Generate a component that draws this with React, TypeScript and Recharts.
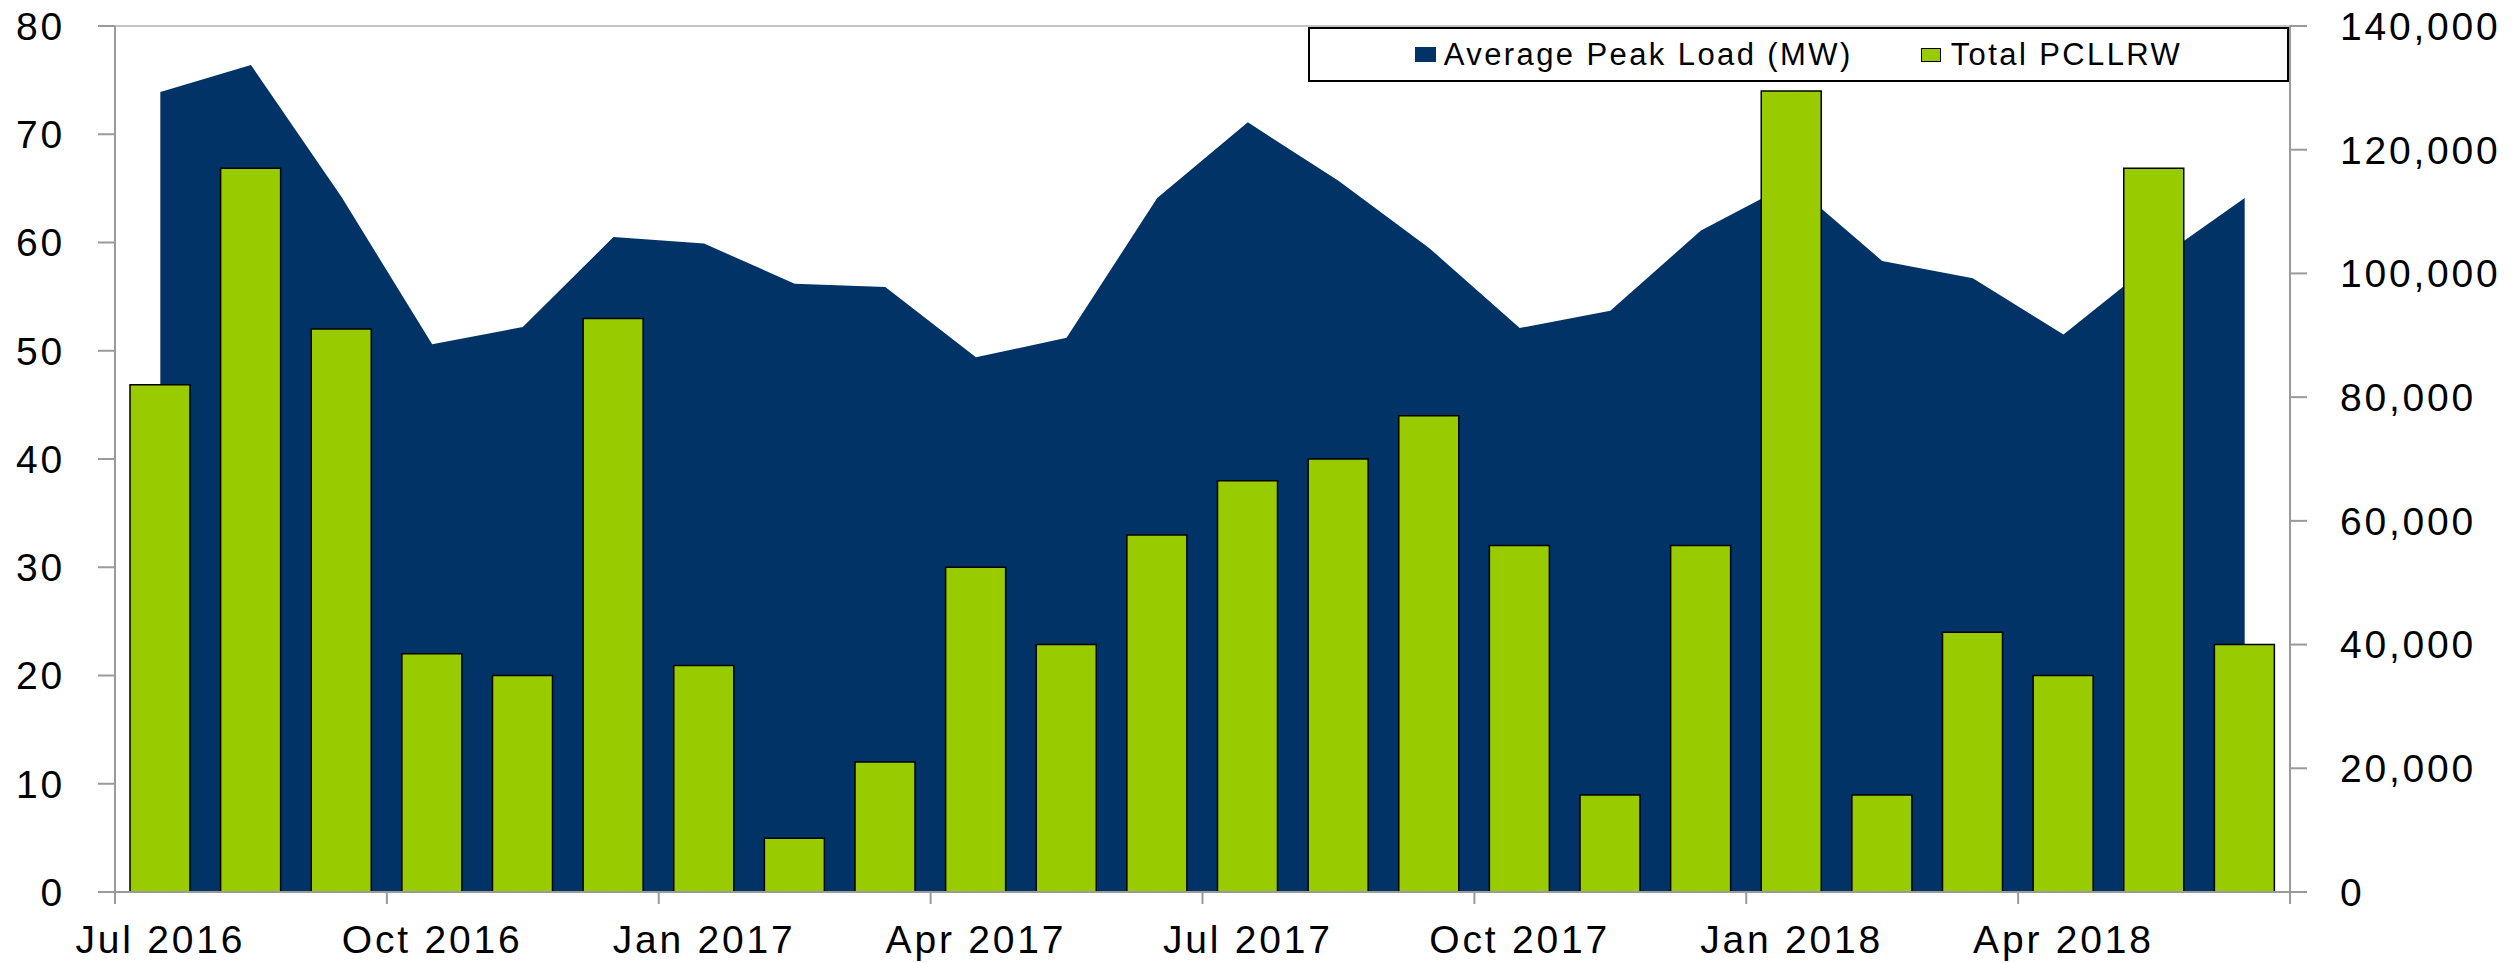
import {
  ComposedChart,
  Area,
  Bar,
  XAxis,
  YAxis,
  ReferenceLine,
} from 'recharts';

const months = [
  'Jul 2016', 'Aug 2016', 'Sep 2016', 'Oct 2016', 'Nov 2016', 'Dec 2016',
  'Jan 2017', 'Feb 2017', 'Mar 2017', 'Apr 2017', 'May 2017', 'Jun 2017',
  'Jul 2017', 'Aug 2017', 'Sep 2017', 'Oct 2017', 'Nov 2017', 'Dec 2017',
  'Jan 2018', 'Feb 2018', 'Mar 2018', 'Apr 2018', 'May 2018', 'Jun 2018',
];

// left axis (MW)
const peakLoad = [
  73.9, 76.4, 64.2, 50.6, 52.2, 60.5, 59.9, 56.2, 55.9, 49.4, 51.2, 64.1,
  71.1, 65.7, 59.5, 52.1, 53.7, 61.1, 65.5, 58.3, 56.7, 51.5, 58.2, 64.1,
];

// right axis
const pcllrw = [
  82000, 117000, 91000, 38500, 35000, 92700, 36600, 8700, 21000, 52500, 40000, 57700,
  66500, 70000, 77000, 56000, 15700, 56000, 129500, 15700, 42000, 35000, 117000, 40000,
];

const leftTicks = [0, 10, 20, 30, 40, 50, 60, 70, 80];
const rightTicks = [0, 20000, 40000, 60000, 80000, 100000, 120000, 140000];
const labelEvery = 3;

const data = months.map((m, i) => ({
  month: m,
  load: peakLoad[i],
  total: pcllrw[i],
}));

const W = 2519;
const H = 963;
const LEFT_W = 115;
const RIGHT_W = 229;
const PLOT_W = W - LEFT_W - RIGHT_W;
const AXIS = '#9a9a9a';
const NAVY = '#023366';
const GREEN = '#99CC00';

const MonthTick = (props: any) => {
  const { x, y, payload, index } = props;
  const band = PLOT_W / months.length;
  const show = index % labelEvery === 0;
  const last = index === months.length - 1;
  return (
    <g>
      {show && (
        <line x1={x - band / 2} x2={x - band / 2} y1={y} y2={y + 12} stroke={AXIS} strokeWidth={2} />
      )}
      {last && (
        <line x1={x + band / 2} x2={x + band / 2} y1={y} y2={y + 12} stroke={AXIS} strokeWidth={2} />
      )}
      {show && (
        <text x={x} y={y + 61} textAnchor="middle" fill="#000" fontSize={39}>
          {payload.value}
        </text>
      )}
    </g>
  );
};

const LegendBox = () => (
  <div
    style={{
      position: 'absolute',
      left: 1308,
      top: 27,
      width: 977,
      height: 51,
      border: '2px solid #000',
      background: '#fff',
      display: 'flex',
      alignItems: 'center',
      justifyContent: 'center',
      fontSize: 31,
      letterSpacing: 2.4,
      color: '#000',
    }}
  >
    <span style={{ width: 21, height: 15, background: NAVY, display: 'inline-block', marginRight: 8 }} />
    <span>Average Peak Load (MW)</span>
    <span
      style={{
        width: 18,
        height: 12,
        background: GREEN,
        border: '1.5px solid #000',
        display: 'inline-block',
        marginLeft: 68,
        marginRight: 10,
      }}
    />
    <span>Total PCLLRW</span>
  </div>
);

const App = () => {
  return (
    <div
      style={{
        position: 'absolute',
        left: 0,
        top: 0,
        width: W,
        height: H,
        background: '#fff',
        fontFamily: '"Liberation Sans", Arial, sans-serif',
        letterSpacing: 2.8,
      }}
    >
      <ComposedChart
        width={W}
        height={H}
        data={data}
        margin={{ top: 26, right: 0, left: 0, bottom: 0 }}
        barCategoryGap="17%"
      >
        <XAxis
          dataKey="month"
          interval={0}
          height={71}
          tickLine={false}
          tickSize={0}
          tickMargin={0}
          axisLine={{ stroke: AXIS, strokeWidth: 2 }}
          tick={<MonthTick />}
        />
        <YAxis
          yAxisId="left"
          width={LEFT_W}
          domain={[0, 80]}
          ticks={leftTicks}
          tickSize={17}
          tickMargin={33}
          axisLine={{ stroke: AXIS, strokeWidth: 2 }}
          tickLine={{ stroke: AXIS, strokeWidth: 2 }}
          tick={{ fill: '#000', fontSize: 39 }}
        />
        <YAxis
          yAxisId="right"
          orientation="right"
          width={RIGHT_W}
          domain={[0, 140000]}
          ticks={rightTicks}
          tickSize={17}
          tickMargin={33}
          axisLine={{ stroke: AXIS, strokeWidth: 2 }}
          tickLine={{ stroke: AXIS, strokeWidth: 2 }}
          tick={{ fill: '#000', fontSize: 39, textAnchor: 'start' }}
          tickFormatter={(v: number) => v.toLocaleString('en-US')}
        />
        <ReferenceLine yAxisId="left" y={80} stroke="#c4c4c4" strokeWidth={2} />
        <Area
          yAxisId="left"
          type="linear"
          dataKey="load"
          name="Average Peak Load (MW)"
          fill={NAVY}
          fillOpacity={1}
          stroke="none"
          isAnimationActive={false}
        />
        <Bar
          yAxisId="right"
          dataKey="total"
          name="Total PCLLRW"
          fill={GREEN}
          stroke="#000"
          strokeWidth={1.5}
          barSize={60}
          isAnimationActive={false}
        />
      </ComposedChart>
      <LegendBox />
    </div>
  );
};

export default App;
